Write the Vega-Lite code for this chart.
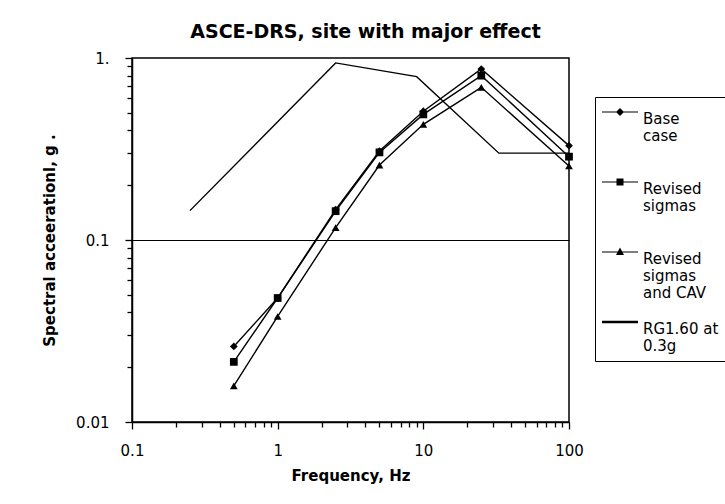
{
  "$schema": "https://vega.github.io/schema/vega-lite/v6.json",
  "width": 437,
  "height": 364,
  "autosize": "none",
  "padding": {"left": 132, "top": 58, "right": 156, "bottom": 82},
  "background": "white",
  "title": {
    "text": "ASCE-DRS, site with major effect",
    "font": "DejaVu Sans",
    "fontSize": 19,
    "fontWeight": "bold",
    "color": "black",
    "anchor": "middle",
    "dx": 15,
    "dy": 25,
    "offset": 19,
    "baseline": "alphabetic"
  },
  "config": {
    "view": {"stroke": "black", "strokeWidth": 1.5},
    "font": "DejaVu Sans"
  },
  "data": {
    "values": [
      {"series": "Base case", "f": 0.5, "sa": 0.026},
      {"series": "Base case", "f": 1, "sa": 0.048},
      {"series": "Base case", "f": 2.5, "sa": 0.147},
      {"series": "Base case", "f": 5, "sa": 0.308},
      {"series": "Base case", "f": 10, "sa": 0.51},
      {"series": "Base case", "f": 25, "sa": 0.87},
      {"series": "Base case", "f": 100, "sa": 0.33},
      {"series": "Revised sigmas", "f": 0.5, "sa": 0.0214},
      {"series": "Revised sigmas", "f": 1, "sa": 0.048},
      {"series": "Revised sigmas", "f": 2.5, "sa": 0.144},
      {"series": "Revised sigmas", "f": 5, "sa": 0.303},
      {"series": "Revised sigmas", "f": 10, "sa": 0.49},
      {"series": "Revised sigmas", "f": 25, "sa": 0.8},
      {"series": "Revised sigmas", "f": 100, "sa": 0.287},
      {"series": "Revised sigmas and CAV", "f": 0.5, "sa": 0.0158},
      {"series": "Revised sigmas and CAV", "f": 1, "sa": 0.038},
      {"series": "Revised sigmas and CAV", "f": 2.5, "sa": 0.117},
      {"series": "Revised sigmas and CAV", "f": 5, "sa": 0.258},
      {"series": "Revised sigmas and CAV", "f": 10, "sa": 0.432},
      {"series": "Revised sigmas and CAV", "f": 25, "sa": 0.69},
      {"series": "Revised sigmas and CAV", "f": 100, "sa": 0.255},
      {"series": "RG1.60 at 0.3g", "f": 0.25, "sa": 0.145},
      {"series": "RG1.60 at 0.3g", "f": 2.5, "sa": 0.94},
      {"series": "RG1.60 at 0.3g", "f": 9, "sa": 0.79},
      {"series": "RG1.60 at 0.3g", "f": 33, "sa": 0.3},
      {"series": "RG1.60 at 0.3g", "f": 100, "sa": 0.3}
    ]
  },
  "resolve": {
    "scale": {"shape": "independent"},
    "axis": {"x": "independent", "y": "independent"}
  },
  "layer": [
    {
      "mark": {"type": "line", "color": "black", "clip": false},
      "encoding": {
        "x": {
          "field": "f", "type": "quantitative",
          "scale": {"type": "log", "domain": [0.1, 100], "nice": false},
          "axis": {
            "orient": "bottom",
            "values": [0.1, 0.2, 0.3, 0.4, 0.5, 0.6, 0.7, 0.8, 0.9, 1, 2, 3, 4, 5, 6, 7, 8, 9, 10, 20, 30, 40, 50, 60, 70, 80, 90, 100],
            "labelExpr": "datum.value == 0.1 ? '0.1' : datum.value == 1 ? '1' : datum.value == 10 ? '10' : datum.value == 100 ? '100' : ''",
            "title": "Frequency, Hz",
            "titleFont": "DejaVu Sans",
            "titleFontSize": 15,
            "titleFontWeight": "bold",
            "titleColor": "black",
            "titlePadding": 10,
            "labelFont": "DejaVu Sans",
            "labelFontSize": 15,
            "labelColor": "black",
            "labelPadding": 14,
            "labelFlush": false,
            "labelOverlap": false,
            "ticks": true,
            "tickSize": {"condition": {"test": "datum.value == 0.1 || datum.value == 1 || datum.value == 10 || datum.value == 100", "value": 7}, "value": 5},
            "tickWidth": 1.3,
            "tickColor": "black",
            "tickOpacity": 1,
            "domainColor": "black",
            "domainWidth": 1.5,
            "grid": false
          }
        },
        "y": {
          "field": "sa", "type": "quantitative",
          "scale": {"type": "log", "domain": [0.01, 1], "nice": false},
          "axis": {
            "orient": "left",
            "values": [0.01, 0.02, 0.03, 0.04, 0.05, 0.06, 0.07, 0.08, 0.09, 0.1, 0.2, 0.3, 0.4, 0.5, 0.6, 0.7, 0.8, 0.9, 1],
            "labelExpr": "datum.value == 1 ? '1.' : datum.value == 0.1 ? '0.1' : datum.value == 0.01 ? '0.01' : ''",
            "title": "Spectral acceerationl, g  .",
            "titleFont": "DejaVu Sans",
            "titleFontSize": 15,
            "titleFontWeight": "bold",
            "titleColor": "black",
            "titlePadding": 18,
            "labelFont": "DejaVu Sans",
            "labelFontSize": 15,
            "labelColor": "black",
            "labelPadding": 16,
            "labelFlush": false,
            "labelOverlap": false,
            "ticks": true,
            "tickSize": {"condition": {"test": "datum.value == 0.01 || datum.value == 0.1 || datum.value == 1", "value": 7}, "value": 5},
            "tickWidth": 1.3,
            "tickColor": "black",
            "tickOpacity": 1,
            "domainColor": "black",
            "domainWidth": 1.5,
            "grid": true,
            "gridColor": "black",
            "gridWidth": 1,
            "gridOpacity": {"condition": {"test": "datum.value == 0.1", "value": 1}, "value": 0}
          }
        },
        "detail": {"field": "series"},
        "strokeWidth": {
          "field": "series", "type": "nominal",
          "scale": {
            "domain": ["Base case", "Revised sigmas", "Revised sigmas and CAV", "RG1.60 at 0.3g"],
            "range": [1.4, 1.4, 1.4, 2.3]
          },
          "legend": null
        }
      }
    },
    {
      "transform": [{"filter": "datum.series != 'RG1.60 at 0.3g'"}],
      "mark": {"type": "point", "filled": true, "color": "black", "opacity": 1, "size": 60, "clip": false},
      "encoding": {
        "x": {"field": "f", "type": "quantitative", "axis": null},
        "y": {"field": "sa", "type": "quantitative", "axis": null},
        "shape": {
          "field": "series", "type": "nominal",
          "scale": {
            "domain": ["Base case", "Revised sigmas", "Revised sigmas and CAV"],
            "range": ["diamond", "square", "triangle-up"]
          },
          "legend": null
        }
      }
    },
    {
      "mark": {"type": "point", "filled": true, "color": "black", "opacity": 0, "clip": false},
      "encoding": {
        "x": {"field": "f", "type": "quantitative", "axis": null},
        "y": {"field": "sa", "type": "quantitative", "axis": null},
        "shape": {
          "field": "series", "type": "nominal",
          "scale": {
            "domain": ["Base case", "Revised sigmas", "Revised sigmas and CAV", "RG1.60 at 0.3g"],
            "range": [
              "M-2.25,-0.075H2.25V0.075H-2.25ZM0,-0.5L0.5,0L0,0.5L-0.5,0Z",
              "M-2.25,-0.075H2.25V0.075H-2.25ZM-0.44,-0.44H0.44V0.44H-0.44Z",
              "M-2.25,-0.075H2.25V0.075H-2.25ZM0,-0.55L0.5,0.38H-0.5Z",
              "M-2.25,-0.15H2.25V0.15H-2.25Z"
            ]
          },
          "legend": {
            "title": null,
            "orient": "none",
            "legendX": 463,
            "legendY": 39,
            "strokeColor": "black",
            "fillColor": "white",
            "padding": 7,
            "symbolSize": 256,
            "symbolOffset": 10,
            "symbolFillColor": "black",
            "symbolStrokeColor": "black",
            "symbolStrokeWidth": 0,
            "symbolOpacity": 1,
            "labelFont": "DejaVu Sans",
            "labelFontSize": 15,
            "labelColor": "black",
            "labelOffset": 15,
            "labelLimit": 400,
            "labelBaseline": "top",
            "rowPadding": 13,
            "labelExpr": "datum.label == 'Base case' ? ['Base', 'case', ''] : datum.label == 'Revised sigmas' ? ['Revised', 'sigmas', ''] : datum.label == 'Revised sigmas and CAV' ? ['Revised', 'sigmas', 'and CAV'] : ['RG1.60 at            ', '0.3g']",
            "encode": {
              "symbols": {"update": {"opacity": {"value": 1}, "fill": {"value": "black"}, "strokeWidth": {"value": 0}}},
              "labels": {"update": {"dy": {"value": -22}, "lineHeight": {"value": 20}}}
            }
          }
        }
      }
    }
  ]
}
